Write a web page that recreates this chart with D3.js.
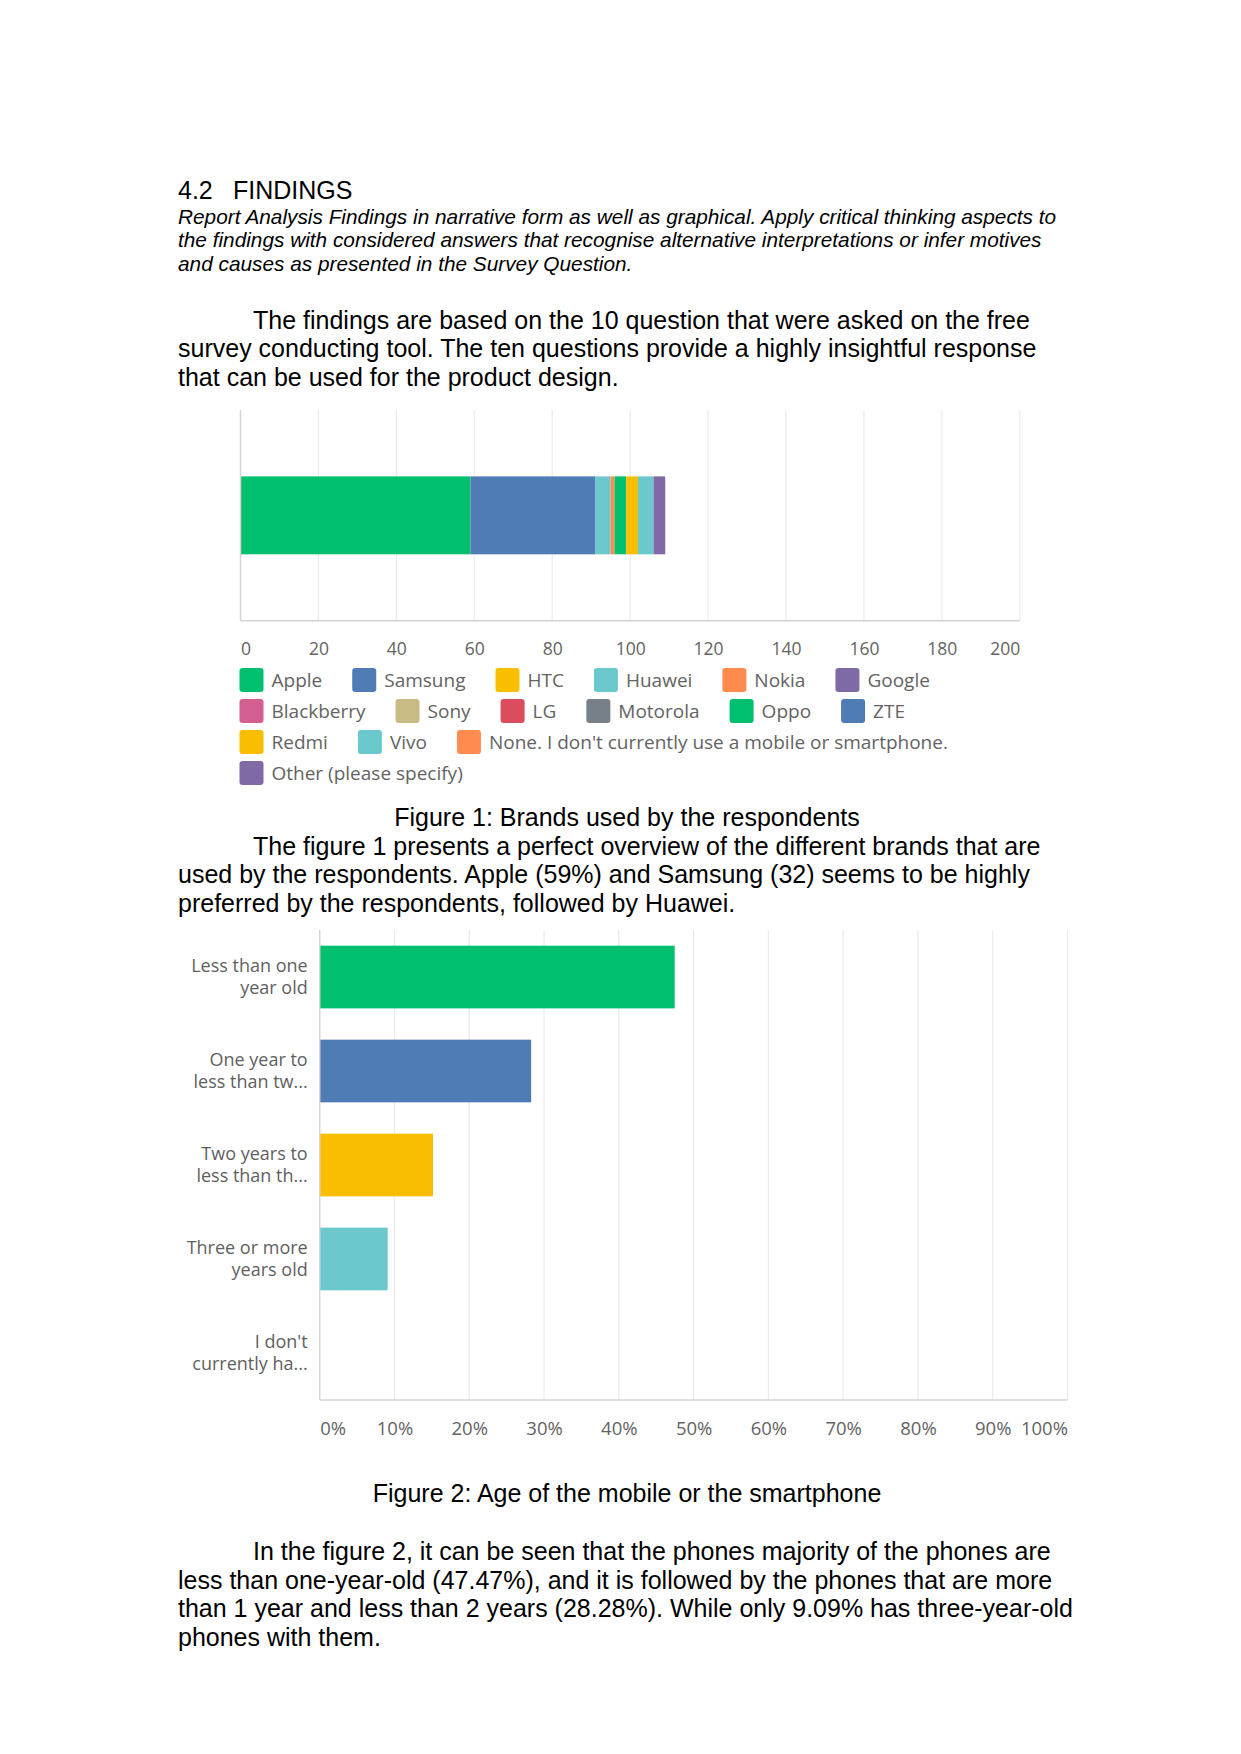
<!DOCTYPE html>
<html>
<head>
<meta charset="utf-8">
<script src="https://cdn.jsdelivr.net/npm/d3@7"></script>
<style>
    body { margin: 0; background: #fff; }
    svg { display: block; }
    .doc { font-family: "Liberation Sans", Arial, sans-serif; fill: #000; }
    .chart text { font-family: "Open Sans", sans-serif; fill: #636363; }
</style>
</head>
<body>
<div id="page"></div>
<script>
// figure 1 data: brands used (stacked, one bar)
var brands = ["Apple", "Samsung", "HTC", "Huawei", "Nokia", "Google", "Blackberry", "Sony", "LG",
    "Motorola", "Oppo", "ZTE", "Redmi", "Vivo",
    "None. I don't currently use a mobile or smartphone.", "Other (please specify)"];
var brandCounts = [59, 32, 0, 4, 1, 0, 0, 0, 0, 0, 3, 0, 3, 4, 0, 3];
var brandTicks = [0, 20, 40, 60, 80, 100, 120, 140, 160, 180, 200];
var brandColors = ["#00bf6f", "#507cb6", "#f9be00", "#6bc8cd", "#ff8b4f", "#7f6aa5", "#d25f90",
    "#c8bb84", "#db4d5c", "#768086", "#00bf6f", "#507cb6", "#f9be00", "#6bc8cd", "#ff8b4f", "#7f6aa5"];

// figure 2 data: age of the phone (percent)
var ageLabels = ["Less than one\nyear old", "One year to\nless than tw...", "Two years to\nless than th...",
    "Three or more\nyears old", "I don't\ncurrently ha..."];
var agePct = [47.47, 28.28, 15.15, 9.09, 0];
var ageTicks = [0, 10, 20, 30, 40, 50, 60, 70, 80, 90, 100];
var ageColors = ["#00bf6f", "#507cb6", "#f9be00", "#6bc8cd", "#ff8b4f"];

var W = 1241, H = 1754;
var svg = d3.select('#page').append('svg').attr('width', W).attr('height', H);

// ---- document text ----
var doc = svg.append('g').attr('class', 'doc');
var left = 178, indent = 75, lh = 28.7;

function lines(arr, y0, step, opts) {
    opts = opts || {};
    arr.forEach(function (t, i) {
        doc.append('text')
            .attr('x', left + (i === 0 && opts.indent ? indent : 0))
            .attr('y', y0 + i * step)
            .style('font-size', (opts.size || 25) + 'px')
            .style('font-style', opts.italic ? 'italic' : 'normal')
            .text(t);
    });
}

doc.append('text').attr('x', left).attr('y', 199).style('font-size', '25px').text('4.2');
doc.append('text').attr('x', 233).attr('y', 199).style('font-size', '25px').text('FINDINGS');

lines(["Report Analysis Findings in narrative form as well as graphical. Apply critical thinking aspects to",
    "the findings with considered answers that recognise alternative interpretations or infer motives",
    "and causes as presented in the Survey Question."], 223.5, 23.6, {italic: true, size: 20.8});

lines(["The findings are based on the 10 question that were asked on the free",
    "survey conducting tool. The ten questions provide a highly insightful response",
    "that can be used for the product design."], 328.5, lh, {indent: true});

doc.append('text').attr('x', 627).attr('y', 826).attr('text-anchor', 'middle')
    .style('font-size', '25px').text('Figure 1: Brands used by the respondents');

lines(["The figure 1 presents a perfect overview of the different brands that are",
    "used by the respondents. Apple (59%) and Samsung (32) seems to be highly",
    "preferred by the respondents, followed by Huawei."], 854.5, lh, {indent: true});

doc.append('text').attr('x', 627).attr('y', 1502).attr('text-anchor', 'middle')
    .style('font-size', '25px').text('Figure 2: Age of the mobile or the smartphone');

lines(["In the figure 2, it can be seen that the phones majority of the phones are",
    "less than one-year-old (47.47%), and it is followed by the phones that are more",
    "than 1 year and less than 2 years (28.28%). While only 9.09% has three-year-old",
    "phones with them."], 1560, lh, {indent: true});

// ---- helpers ----
function grid(g, x, y0, y1, ticks) {
    g.append('g').selectAll('line').data(ticks.slice(1)).enter().append('line')
        .attr('x1', function (d) { return x(d); })
        .attr('x2', function (d) { return x(d); })
        .attr('y1', y0).attr('y2', y1)
        .style('stroke', '#ebebeb').style('stroke-width', 1.2);
}

function tickLabels(g, x, y, ticks, fmt, size) {
    var axis = d3.axisBottom(x).tickValues(ticks).tickSize(0).tickPadding(0).tickFormat(fmt);
    var a = g.append('g').attr('transform', 'translate(0,' + y + ')').call(axis);
    a.select('.domain').remove();
    a.selectAll('text')
        .attr('dy', 0)
        .style('font-family', '"Open Sans", sans-serif')
        .style('font-size', size + 'px')
        .style('fill', '#636363')
        .attr('text-anchor', function (d, i) {
            return i === 0 ? 'start' : (i === ticks.length - 1 ? 'end' : 'middle');
        });
}

function axisLines(g, x0, x1, y0, y1) {
    g.append('line').attr('x1', x0).attr('x2', x0).attr('y1', y0).attr('y2', y1)
        .style('stroke', '#d4d4d4').style('stroke-width', 1.5);
    g.append('line').attr('x1', x0).attr('x2', x1).attr('y1', y1).attr('y2', y1)
        .style('stroke', '#d4d4d4').style('stroke-width', 1.5);
}

// ---- figure 1: stacked bar ----
var c1 = svg.append('g').attr('class', 'chart');
var x1 = d3.scaleLinear().domain([0, 200]).range([240.5, 1019.8]);
var top1 = 410, bot1 = 620.7;
var y1 = d3.scaleBand().domain(['brands']).range([top1, bot1]).padding(0.46);

grid(c1, x1, top1, bot1, brandTicks);

var row = {brands: 'brands'};
brands.forEach(function (b, i) { row[b] = brandCounts[i]; });
var stacked = d3.stack().keys(brands)([row]);

c1.append('g').selectAll('rect').data(stacked).enter().append('rect')
    .attr('x', function (s) { return x1(s[0][0]); })
    .attr('width', function (s) { return x1(s[0][1]) - x1(s[0][0]); })
    .attr('y', y1('brands'))
    .attr('height', y1.bandwidth())
    .style('fill', function (s, i) { return brandColors[i]; });

axisLines(c1, x1(0), x1(200), top1, bot1);
tickLabels(c1, x1, 655, brandTicks, d3.format('d'), 17.5);

// legend, flowing rows
var lg = c1.append('g');
var lx = 239.5, ly = 680, maxX = 1016, rowStep = 31;
brands.forEach(function (b, i) {
    var item = lg.append('g');
    item.append('rect').attr('width', 24).attr('height', 24).attr('rx', 3)
        .attr('y', -12).style('fill', brandColors[i]);
    var t = item.append('text').attr('x', 32).attr('dy', '0.35em')
        .style('font-size', '19px').text(b);
    var w = 32 + t.node().getComputedTextLength();
    if (lx > 239.5 && lx + w > maxX) {
        lx = 239.5;
        ly += rowStep;
    }
    item.attr('transform', 'translate(' + lx + ',' + ly + ')');
    lx += w + 30;
});

// ---- figure 2: horizontal bars ----
var c2 = svg.append('g').attr('class', 'chart');
var x2 = d3.scaleLinear().domain([0, 100]).range([319.7, 1067.5]);
var top2 = 930, bot2 = 1400;
var y2 = d3.scaleBand().domain(ageLabels).range([top2, bot2]).paddingInner(0.333).paddingOuter(0.1667);

grid(c2, x2, top2, bot2, ageTicks);

c2.append('g').selectAll('rect').data(agePct).enter().append('rect')
    .attr('x', x2(0))
    .attr('y', function (d, i) { return y2(ageLabels[i]); })
    .attr('width', function (d) { return x2(d) - x2(0); })
    .attr('height', y2.bandwidth())
    .style('fill', function (d, i) { return ageColors[i]; });

axisLines(c2, x2(0), x2(100), top2, bot2);
tickLabels(c2, x2, 1435, ageTicks, function (d) { return d + '%'; }, 18.5);

var yAxis = d3.axisLeft(y2).tickSize(0).tickPadding(12);
var ya = c2.append('g').attr('transform', 'translate(' + x2(0) + ',0)').call(yAxis);
ya.select('.domain').remove();
ya.selectAll('text').each(function (d) {
    var t = d3.select(this).text(null)
        .style('font-family', '"Open Sans", sans-serif')
        .style('font-size', '18px').style('fill', '#5f5f5f');
    var parts = d.split('\n');
    parts.forEach(function (p, i) {
        t.append('tspan').attr('x', -12).attr('dy', i === 0 ? '-0.3em' : '1.25em').text(p);
    });
});
</script>
</body>
</html>
